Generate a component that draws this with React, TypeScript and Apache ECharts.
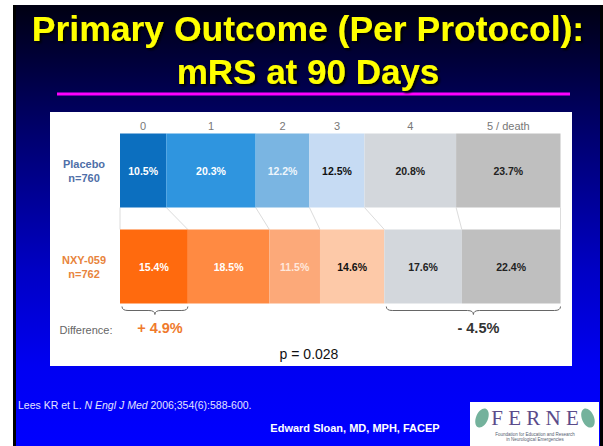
import React, { useEffect, useRef } from 'react';
import * as echarts from 'echarts';

// ---------- data ----------
const groups = ['Placebo', 'NXY-059'];
const groupSizes = ['n=760', 'n=762'];
const mrsLevels = ['0', '1', '2', '3', '4', '5 / death'];
const placeboPct = [10.5, 20.3, 12.2, 12.5, 20.8, 23.7];
const nxyPct = [15.4, 18.5, 11.5, 14.6, 17.6, 22.4];
const diffLevelRanges = [[0, 1], [4, 6]];
const diffLabels = ['+ 4.9%', '- 4.5%'];
const diffColors = ['#ef7a2c', '#333333'];
const differenceTitle = 'Difference:';
const pValueText = 'p = 0.028';
const titleLines = ['Primary Outcome (Per Protocol):', 'mRS at 90 Days'];
const citationParts = ['Lees KR et L. ', 'N Engl J Med', ' 2006;354(6):588-600.'];
const author = 'Edward Sloan, MD, MPH, FACEP';
const logoWord = 'F E R N E';
const logoSub = ['Foundation for Education and Research', 'in Neurological Emergencies'];

// ---------- styles ----------
const placeboColors = ['#0c6fbf', '#2f95df', '#7ab5e2', '#c6dbf3', '#d3d7dc', '#bfbfbf'];
const nxyColors = ['#ff6a0e', '#ff8a42', '#fca979', '#fdc9a8', '#d3d7dc', '#bfbfbf'];
const placeboLabelColors = ['#ffffff', '#ffffff', '#eef5fc', '#111111', '#222222', '#222222'];
const nxyLabelColors = ['#ffffff', '#ffffff', '#ffe8dc', '#111111', '#222222', '#222222'];
const groupColors = ['#4f6fa8', '#e8843c'];
const BAR_W = 74;
const FONT = 'Liberation Sans, Arial, sans-serif';

const cumulative = (arr: number[]) =>
  arr.reduce((acc: number[], v) => [...acc, Math.round((acc[acc.length - 1] + v) * 10) / 10], [0]);

export default function App() {
  const ref = useRef<HTMLDivElement>(null);

  useEffect(() => {
    if (!ref.current) return;
    const chart = echarts.init(ref.current, undefined, { renderer: 'svg' });
    const placeboCum = cumulative(placeboPct);
    const nxyCum = cumulative(nxyPct);

    const barSeries = mrsLevels.map((lvl, i) => ({
      type: 'bar',
      name: lvl,
      stack: 'mrs',
      barWidth: BAR_W,
      barGap: '-100%',
      z: 3,
      label: {
        show: true,
        position: 'inside',
        fontSize: 10.5,
        fontWeight: 'bold',
        fontFamily: FONT,
        formatter: (p: any) => p.value.toFixed(1) + '%',
      },
      data: [
        { value: placeboPct[i], itemStyle: { color: placeboColors[i] }, label: { color: placeboLabelColors[i] } },
        { value: nxyPct[i], itemStyle: { color: nxyColors[i] }, label: { color: nxyLabelColors[i] } },
      ],
    }));

    const headerSeries = mrsLevels.map((lvl, i) => ({
      type: 'bar',
      name: lvl + ' header',
      stack: 'header',
      barWidth: BAR_W,
      barGap: '-100%',
      silent: true,
      z: 1,
      itemStyle: { color: 'rgba(0,0,0,0)' },
      label: { show: false },
      data: [
        {
          value: placeboPct[i],
          label: { show: true, position: 'top', distance: 2, formatter: lvl, color: '#777777', fontSize: 11, fontFamily: FONT },
        },
        nxyPct[i],
      ],
    }));

    const connectorSeries = {
      type: 'custom',
      silent: true,
      z: 1,
      encode: { x: 0, y: 1 },
      data: placeboCum.map((v, i) => [v, 0, nxyCum[i]]),
      renderItem: (_p: any, api: any) => {
        const a = api.coord([api.value(0), 0]);
        const b = api.coord([api.value(2), 1]);
        return {
          type: 'line',
          shape: { x1: a[0], y1: a[1] + BAR_W / 2, x2: b[0], y2: b[1] - BAR_W / 2 },
          style: { stroke: '#dcdcdc', lineWidth: 1 },
        };
      },
    };

    const braceSeries = {
      type: 'custom',
      silent: true,
      z: 4,
      encode: { x: 0, y: 1 },
      data: diffLevelRanges.map((r, k) => [nxyCum[r[0]], 1, nxyCum[r[1]], k]),
      renderItem: (_p: any, api: any) => {
        const a = api.coord([api.value(0), 1]);
        const b = api.coord([api.value(2), 1]);
        const k = api.value(3);
        const x0 = a[0] + 2;
        const x1 = b[0];
        const y0 = a[1] + BAR_W / 2 + 3;
        const ym = y0 + 4;
        const yt = y0 + 8;
        const xc = (x0 + x1) / 2;
        const r = 6;
        const d = `M${x0} ${y0} Q${x0} ${ym} ${x0 + r} ${ym} L${xc - r} ${ym} Q${xc} ${ym} ${xc} ${yt} Q${xc} ${ym} ${xc + r} ${ym} L${x1 - r} ${ym} Q${x1} ${ym} ${x1} ${y0}`;
        return {
          type: 'group',
          children: [
            { type: 'path', shape: { pathData: d }, style: { fill: 'none', stroke: '#666666', lineWidth: 1 } },
            {
              type: 'text',
              style: {
                text: diffLabels[k],
                x: xc + 5,
                y: y0 + 21,
                fill: diffColors[k],
                font: `bold 14.5px ${FONT}`,
                textAlign: 'center',
                textVerticalAlign: 'middle',
              },
            },
          ],
        };
      },
    };

    chart.setOption({
      animation: false,
      backgroundColor: 'transparent',
      grid: { left: 120, right: 42.5, top: 122.5, bottom: 131.5 },
      xAxis: { type: 'value', min: 0, max: 100, show: false },
      yAxis: {
        type: 'category',
        data: groups,
        inverse: true,
        axisLine: { show: false },
        axisTick: { show: false },
        splitLine: { show: false },
        axisLabel: {
          align: 'center',
          margin: 36,
          formatter: (v: string, idx: number) => `{g${idx}|${v}}\n{g${idx}|${groupSizes[idx]}}`,
          rich: {
            g0: { color: groupColors[0], fontSize: 11, fontWeight: 'bold', fontFamily: FONT, lineHeight: 14, align: 'center' },
            g1: { color: groupColors[1], fontSize: 11, fontWeight: 'bold', fontFamily: FONT, lineHeight: 14, align: 'center' },
          },
        },
      },
      graphic: [
        { type: 'rect', z: -10, shape: { x: 0, y: 0, width: 603, height: 446 }, style: { fill: '#ffffff' } },
        { type: 'rect', z: -10, shape: { x: 13, y: 5, width: 590, height: 441 }, style: { fill: '#000000' } },
        {
          type: 'rect',
          z: -10,
          shape: { x: 16, y: 5, width: 584, height: 441 },
          style: {
            fill: new echarts.graphic.LinearGradient(0, 0, 0, 1, [
              { offset: 0, color: '#000012' },
              { offset: 0.3, color: '#000070' },
              { offset: 0.6, color: '#0000c4' },
              { offset: 0.82, color: '#0000f2' },
              { offset: 1, color: '#0000ff' },
            ]),
          },
        },
        { type: 'line', z: -9, shape: { x1: 57, y1: 94, x2: 570, y2: 94 }, style: { stroke: '#ff00ff', lineWidth: 3 } },
        ...titleLines.map((t, i) => ({
          type: 'text',
          z: -9,
          style: {
            text: t,
            x: 308,
            y: i === 0 ? 29 : 71,
            fill: '#ffff00',
            font: `bold ${i === 0 ? 35.5 : 35}px ${FONT}`,
            textAlign: 'center',
            textVerticalAlign: 'middle',
            textShadowColor: '#000000',
            textShadowOffsetX: 2,
            textShadowOffsetY: 2,
            textShadowBlur: 2,
          },
        })),
        { type: 'rect', z: -9, shape: { x: 50, y: 112, width: 522, height: 254 }, style: { fill: '#ffffff' } },
        {
          type: 'text',
          style: { text: differenceTitle, x: 86, y: 330, fill: '#666666', font: `11px ${FONT}`, textAlign: 'center', textVerticalAlign: 'middle' },
        },
        {
          type: 'text',
          style: { text: pValueText, x: 309, y: 354, fill: '#111111', font: `14px ${FONT}`, textAlign: 'center', textVerticalAlign: 'middle' },
        },
        {
          type: 'text',
          style: {
            text: `{n|${citationParts[0]}}{i|${citationParts[1]}}{n|${citationParts[2]}}`,
            x: 18,
            y: 405,
            textVerticalAlign: 'middle',
            rich: {
              n: { fill: '#e4e4ff', fontSize: 10.5, fontFamily: FONT },
              i: { fill: '#e4e4ff', fontSize: 10.5, fontFamily: FONT, fontStyle: 'italic' },
            },
          },
        },
        {
          type: 'text',
          style: { text: author, x: 355, y: 428, fill: '#ffffff', font: `bold 11px ${FONT}`, textAlign: 'center', textVerticalAlign: 'middle' },
        },
        {
          type: 'group',
          x: 470,
          y: 402,
          children: [
            { type: 'rect', shape: { x: 0, y: 0, width: 129, height: 44 }, style: { fill: '#ffffff' } },
            { type: 'ellipse', shape: { cx: 12, cy: 16, rx: 6, ry: 10 }, rotation: -0.4, originX: 12, originY: 16, style: { fill: '#74b29c' } },
            { type: 'ellipse', shape: { cx: 118, cy: 16, rx: 6, ry: 10 }, rotation: 0.4, originX: 118, originY: 16, style: { fill: '#74b29c' } },
            {
              type: 'text',
              style: { text: logoWord, x: 65, y: 16, fill: '#5b4b8a', font: '21px Liberation Serif, serif', textAlign: 'center', textVerticalAlign: 'middle' },
            },
            ...logoSub.map((s, i) => ({
              type: 'text',
              style: { text: s, x: 65, y: 32 + i * 5, fill: '#556070', font: `4.5px ${FONT}`, textAlign: 'center', textVerticalAlign: 'middle' },
            })),
          ],
        },
      ],
      series: [connectorSeries, ...barSeries, ...headerSeries, braceSeries],
    });

    return () => chart.dispose();
  }, []);

  return <div ref={ref} style={{ position: 'absolute', left: 0, top: 0, width: 603, height: 446 }} />;
}
